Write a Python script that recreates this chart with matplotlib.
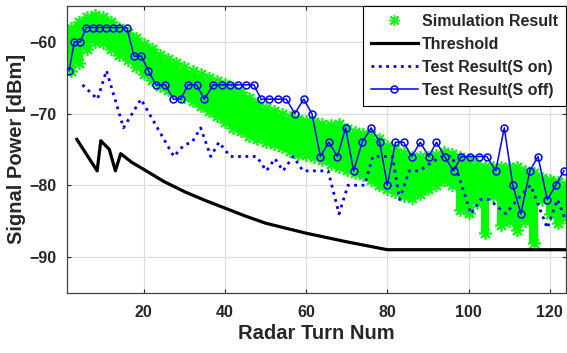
import numpy as np
import matplotlib.pyplot as plt

plt.rcParams['font.family'] = ['Liberation Sans', 'DejaVu Sans']
plt.rcParams['font.weight'] = 'bold'
plt.rcParams['axes.labelweight'] = 'bold'

# simulation band (upper / lower envelope, every 2 turns)
sim_x = np.arange(2, 125, 2)
sim_hi = [-58.0, -57.2, -56.6, -56.3, -56.6, -57.2, -58.0, -58.7, -59.5, -60.3,
          -61.0, -61.8, -62.4, -63.0, -63.5, -64.0, -64.5, -65.0, -65.4, -65.9,
          -66.5, -67.0, -67.8, -68.5, -69.2, -69.7, -70.1, -70.5, -70.8, -71.0,
          -71.2, -71.4, -71.6, -71.5, -72.1, -72.6, -72.8, -73.0, -73.5, -74.5,
          -75.0, -75.5, -76.0, -76.0, -76.0, -75.8, -75.3, -75.6, -76.0, -76.5,
          -77.0, -77.4, -77.5, -77.4, -77.4, -77.4, -78.0, -78.3, -79.0, -79.3,
          -79.5, -80.0]
sim_lo = [-64.0, -63.0, -61.0, -60.0, -60.2, -61.0, -61.9, -62.6, -63.5, -64.5,
          -65.3, -66.1, -66.7, -67.2, -67.7, -68.3, -68.9, -69.6, -70.4, -71.2,
          -72.0, -72.4, -73.2, -73.6, -74.0, -74.3, -74.7, -75.2, -75.6, -75.8,
          -76.0, -76.5, -77.0, -77.4, -77.9, -78.3, -78.6, -79.3, -80.0, -80.5,
          -81.0, -81.5, -81.8, -81.2, -80.5, -80.0, -79.3, -80.0, -83.5, -83.9,
          -82.5, -86.7, -81.5, -85.6, -85.0, -86.2, -85.0, -88.0, -82.0, -84.0,
          -85.3, -84.5]

# threshold
thr_x = [3.5, 8.5, 9.4, 11.5, 13, 14.3, 17, 20, 25, 30, 35, 40, 45, 50, 55, 60,
         65, 70, 75, 80, 124]
thr_y = [-73.6, -78, -73.8, -75, -78, -75.6, -76.8, -77.8, -79.5, -80.9, -82.1,
         -83.2, -84.3, -85.3, -86.0, -86.7, -87.3, -87.9, -88.45, -89, -89]

# test result, S on
on_x = [4.9, 8.6, 10.8, 15, 19.3, 27.4, 29.9, 31.9, 34, 36.5, 38.5, 41.3, 47.8,
        50.2, 52.3, 54.3, 56.8, 59.2, 65.4, 68.1, 70.3, 74.4, 76.4, 81.3, 83,
        85.4, 87.9, 91.2, 93.6, 96, 100.6, 103, 105.1, 109.2, 112, 115.3, 119.4,
        121.9, 124]
on_y = [-66, -68, -64, -72, -68, -76, -74.4, -74, -72, -76, -74, -76, -76,
        -78, -76.3, -78, -76, -78, -78, -84, -80, -80, -76, -76, -82,
        -78, -78, -76.7, -76, -76, -84, -82, -82, -84, -82, -80, -86,
        -82, -85]

# test result, S off
off_x = [1.6, 2.9, 4.4, 5.8, 7.4, 9.0, 10.7, 12.4, 14.0, 15.8, 17.6, 19.4, 21.1,
         23.0, 25.3, 27.3, 29.1, 30.9, 33.0, 34.9, 37.1, 39.2, 41.2, 43.1, 45.1,
         47.1, 48.9, 50.9, 53.1, 55.1, 57.2, 59.4, 61.4, 63.5, 65.6, 67.7, 69.7,
         71.7, 73.8, 76.0, 78.1, 80.0, 82.0, 84.0, 86.0, 88.1, 90.2, 92.1, 94.1,
         96.3, 98.2, 100.3, 102.5, 104.5, 106.7, 108.8, 110.9, 112.9, 115.1,
         117.1, 119.4, 121.5, 123.5]
off_y = [-64, -60, -60, -58, -58, -58, -58, -58, -58, -58, -62, -62, -64,
         -66, -66, -68, -68, -66, -66, -68, -66, -66, -66, -66, -66,
         -66, -68, -68, -68, -68, -70, -68, -70, -76, -74, -76, -72,
         -78, -74, -72, -74, -80, -74, -74, -76, -74, -76, -74, -76,
         -78, -76, -76, -76, -76, -78, -72, -80, -84, -78,
         -76, -82, -80, -78]

green = '#00ff00'
blue = '#0000ff'
txt = '#262626'
star = (8, 2, 0)

fig = plt.figure(figsize=(5.67, 3.53), dpi=100)
ax = fig.add_axes([0.1176, 0.1708, 0.8806, 0.8122])

hi = np.array(sim_hi)
lo = np.array(sim_lo)
ax.bar(sim_x, hi - lo, bottom=lo, width=2.0, color=green, linewidth=0, zorder=2)
ax.plot(sim_x, hi, linestyle='none', marker=star, color=green, ms=9, mew=1.2, zorder=2)
ax.plot(sim_x, lo, linestyle='none', marker=star, color=green, ms=9, mew=1.2, zorder=2)
h_sim, = ax.plot([], [], linestyle='none', marker=star, color=green, ms=8, mew=1.0)

h_thr, = ax.plot(thr_x, thr_y, '-', color='black', lw=2.3, zorder=3)
h_on, = ax.plot(on_x, on_y, ':', color=blue, lw=2.0, zorder=4)
h_off, = ax.plot(off_x, off_y, '-', color=blue, lw=1.1, marker='o', ms=5,
                 mfc='none', mec=blue, mew=1.1, zorder=5)

ax.set_xlim(1, 124)
ax.set_ylim(-95, -55)
ax.set_xticks([20, 40, 60, 80, 100, 120])
ax.set_yticks([-90, -80, -70, -60])
ax.grid(True, color='#dddddd', lw=0.9)
ax.set_axisbelow(True)
ax.tick_params(direction='in', length=3, width=0.8, colors=txt, labelsize=11.5,
               top=True, right=True)
ax.tick_params(axis='x', pad=9)
ax.tick_params(axis='y', pad=7)
for lab in ax.get_xticklabels() + ax.get_yticklabels():
    lab.set_fontweight('bold')
for s in ax.spines.values():
    s.set_color('#404040')
    s.set_linewidth(0.9)

ax.set_xlabel('Radar Turn Num', fontsize=14.5, fontweight='bold', color=txt, labelpad=3)
ax.set_ylabel('Signal Power [dBm]', fontsize=14.5, fontweight='bold', color=txt, labelpad=3)

leg = ax.legend([h_sim, h_thr, h_on, h_off],
                ['Simulation Result', 'Threshold', 'Test Result(S on)', 'Test Result(S off)'],
                loc='upper right', borderaxespad=0, fancybox=False, framealpha=1,
                edgecolor='black', prop={'size': 11.5, 'weight': 'bold'},
                handlelength=2.95, labelspacing=0.5, handletextpad=0.25, borderpad=0.5)
leg.get_frame().set_linewidth(0.8)
leg.set_zorder(10)
for t in leg.get_texts():
    t.set_color(txt)

fig.savefig('out.png', dpi=100)
